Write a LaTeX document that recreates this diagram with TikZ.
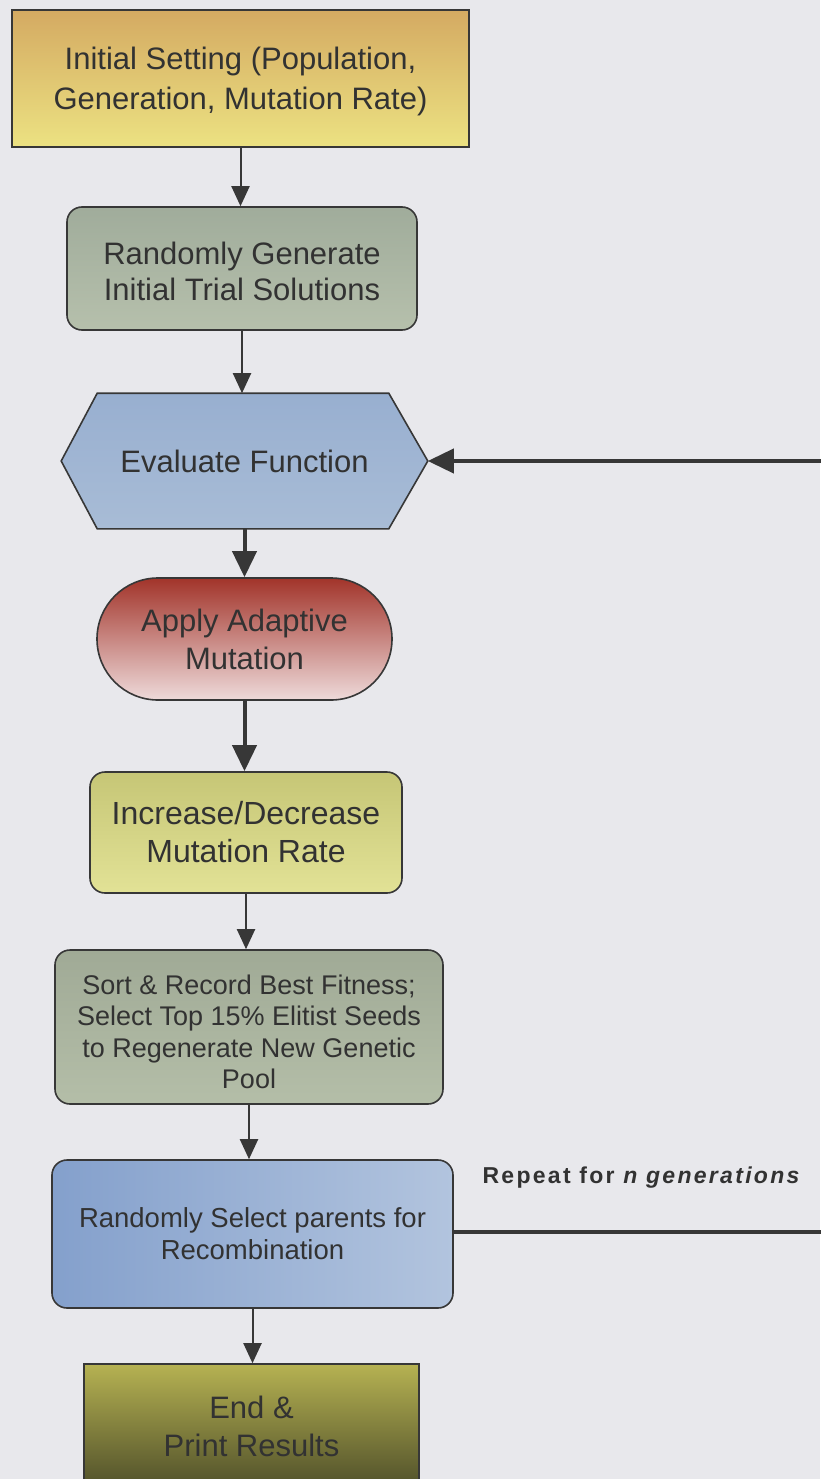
\documentclass[tikz,border=0pt]{standalone}
\usepackage{fontspec}
\setmainfont{Liberation Sans}
\newfontfamily\lblfont[LetterSpace=10]{Liberation Sans}
\usetikzlibrary{arrows.meta,shapes.misc,backgrounds}
\definecolor{bg}{RGB}{232,232,236}
\definecolor{edge}{RGB}{55,55,55}
\definecolor{txt}{RGB}{50,50,50}
\definecolor{initT}{RGB}{212,170,98}
\definecolor{initB}{RGB}{236,226,130}
\definecolor{genT}{RGB}{160,172,155}
\definecolor{genB}{RGB}{182,192,172}
\definecolor{evalT}{RGB}{152,175,208}
\definecolor{evalB}{RGB}{168,188,214}
\definecolor{appT}{RGB}{162,52,42}
\definecolor{appB}{RGB}{238,218,218}
\definecolor{incT}{RGB}{198,198,118}
\definecolor{incB}{RGB}{226,226,150}
\definecolor{sortT}{RGB}{160,170,150}
\definecolor{sortB}{RGB}{180,190,168}
\definecolor{recL}{RGB}{132,160,204}
\definecolor{recR}{RGB}{178,196,222}
\definecolor{endT}{RGB}{182,178,82}
\definecolor{endB}{RGB}{80,80,42}
\newcommand{\lowered}[2]{\raisebox{-#1}[\height][\depth]{#2}}
\tikzset{
  box/.style={draw=edge, line width=1.6pt, text=txt, align=center, inner sep=0pt,
    font=\fontsize{31}{38}\selectfont},
  rbox/.style={box, rounded corners=15pt},
  thinarrow/.style={draw=edge, line width=2pt, -{Triangle[length=20pt,width=18pt]}},
  thickarrow/.style={draw=edge, line width=4pt, -{Triangle[length=26pt,width=24pt]}},
}
\begin{document}
\begin{tikzpicture}[x=1pt,y=1pt]
\begin{scope}[on background layer]
\fill[bg] (0,0) rectangle (820,-1479);
\end{scope}
\useasboundingbox (0,0) rectangle (820,-1479);

\node[box, top color=initT, bottom color=initB, minimum width=457pt, minimum height=137pt,
  font=\fontsize{31}{40}\selectfont] (init) at (240.5,-78.5)
  {\lowered{3pt}{\parbox{450pt}{\centering Initial Setting (Population,\\Generation, Mutation Rate)}}};

\node[rbox, top color=genT, bottom color=genB, minimum width=350pt, minimum height=123pt,
  font=\fontsize{31}{36}\selectfont] (gen)
  at (242,-268.5) {\lowered{3pt}{\parbox{345pt}{\centering Randomly Generate\\Initial Trial Solutions}}};

\node[box, draw=none, minimum width=365pt, minimum height=134pt] (eval) at (244.5,-461)
  {Evaluate Function};
\begin{scope}[on background layer]
\filldraw[draw=edge, line width=1.6pt, top color=evalT, bottom color=evalB]
  (eval.west) -- ([xshift=36pt]eval.north west) -- ([xshift=-39pt]eval.north east)
  -- (eval.east) -- ([xshift=-39pt]eval.south east) -- ([xshift=36pt]eval.south west) -- cycle;
\end{scope}

\node[box, rounded rectangle, top color=appT, bottom color=appB, minimum width=295pt,
  minimum height=122pt] (apply) at (244.5,-639) {Apply Adaptive\\Mutation};

\node[rbox, top color=incT, bottom color=incB, minimum width=312pt, minimum height=121pt,
  font=\fontsize{32}{38}\selectfont]
  (incr) at (246,-832.5) {Increase/Decrease\\Mutation Rate};

\node[rbox, top color=sortT, bottom color=sortB, minimum width=388pt, minimum height=154pt,
  font=\fontsize{27}{31.5}\selectfont] (sort) at (249,-1027)
  {\lowered{5pt}{\parbox{380pt}{\centering Sort \& Record Best Fitness;\\Select Top 15\% Elitist Seeds\\to Regenerate New Genetic\\Pool}}};

\node[rbox, left color=recL, right color=recR, minimum width=401pt, minimum height=148pt,
  font=\fontsize{27.5}{32}\selectfont] (rec) at (252.5,-1234)
  {Randomly Select parents for\\Recombination};

\node[box, top color=endT, bottom color=endB, minimum width=335pt, minimum height=124pt]
  (end) at (251.5,-1426) {End \&\\Print Results};

\node[text=txt, font=\fontsize{23}{26}\selectfont\lblfont\bfseries, anchor=west] (lbl) at (479,-1178)
  {Repeat for \textit{n generations}};

\coordinate (loopx) at (826,-1232);

\draw[thinarrow] (init.south) -- (init.south |- gen.north);
\draw[thinarrow] (gen.south) -- (gen.south |- eval.north);
\draw[thickarrow] (eval.south) -- (eval.south |- apply.north);
\draw[thickarrow] (apply.south) -- (apply.south |- incr.north);
\draw[thinarrow] (incr.south) -- (incr.south |- sort.north);
\draw[thinarrow] (sort.south) -- (sort.south |- rec.north);
\draw[thinarrow] (rec.south) -- (rec.south |- end.north);
\draw[thickarrow] ([yshift=2pt]rec.east) -- (loopx) |- (eval.east);
\end{tikzpicture}
\end{document}
